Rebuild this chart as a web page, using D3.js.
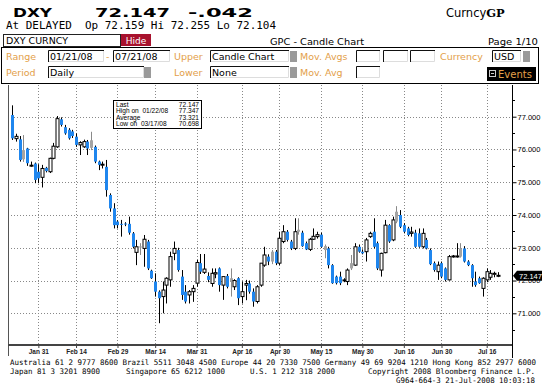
<!DOCTYPE html>
<html><head><meta charset="utf-8">
<script src="https://cdn.jsdelivr.net/npm/d3@7/dist/d3.min.js"></script>
<style>body{margin:0;background:#fff}svg{display:block}text{white-space:pre}</style>
</head><body><svg id="c" width="546" height="392"></svg>
<script>
// ---------- data ----------
const startDate = "2008-01-22";   // first session shown (range 01/21/08 - 07/21/08)
const sessionCount = 130;          // weekday sessions to 07/21/08
const openVals = [
77.05,76.33,76.31,75.70,76.03,75.50,75.57,75.32,75.15,75.44,
75.32,75.73,76.08,76.92,76.68,76.60,76.55,76.39,76.14,76.08,
76.24,76.05,76.08,75.63,75.52,75.47,74.61,74.20,73.80,73.73,
73.74,73.73,73.44,72.86,73.02,72.98,73.19,72.30,71.97,71.66,
71.51,71.86,72.02,72.83,72.93,72.12,71.66,71.56,71.66,71.92,
72.53,72.25,72.14,71.91,72.20,72.37,71.86,72.14,71.97,71.81,
72.07,71.51,71.86,71.91,71.66,71.36,71.86,72.47,72.73,72.58,
72.88,72.53,73.19,73.49,73.19,72.98,73.49,73.46,73.14,72.95,
73.26,73.34,73.40,72.93,72.98,72.47,72.12,72.12,71.99,71.97,
72.37,72.47,73.03,72.88,72.88,73.34,73.49,73.14,72.32,72.85,
73.69,73.24,73.80,74.00,73.69,73.59,73.44,73.46,73.44,73.03,
73.24,72.93,72.53,72.27,72.53,72.37,72.02,72.73,72.75,72.73,
72.98,72.58,72.47,71.97,72.07,71.76,72.02,72.10,72.20,72.159];
const highVals = [
77.347,76.48,76.41,76.44,76.05,75.63,75.60,75.55,75.53,75.47,
75.75,76.20,77.02,76.98,76.75,76.65,76.60,76.49,76.25,76.30,
76.29,76.54,76.12,75.66,75.63,75.68,74.66,74.36,73.84,73.85,
73.78,73.95,73.48,73.24,73.14,73.39,73.24,72.33,72.22,71.70,
71.97,72.10,72.88,73.19,73.00,72.32,71.86,71.71,71.86,72.63,
72.81,72.81,72.25,72.37,72.37,72.40,72.12,72.20,72.37,72.04,
72.10,71.97,72.02,72.00,71.76,71.86,72.53,73.03,72.80,72.93,
72.93,73.49,73.69,73.54,73.24,73.90,73.90,73.52,73.19,73.30,
73.59,73.49,73.46,73.10,73.03,72.50,72.15,72.27,72.07,72.37,
72.78,73.14,73.10,72.95,73.30,73.49,73.90,73.19,72.85,73.85,
73.72,73.95,74.27,74.15,73.75,73.64,73.64,73.55,73.59,73.59,
73.30,72.98,72.58,72.58,72.58,72.40,72.78,72.78,73.14,73.14,
73.05,72.62,72.50,72.27,72.12,72.10,72.37,72.32,72.27,72.255];
const lowVals = [
76.29,76.24,75.63,75.62,75.50,75.47,74.97,74.97,74.84,75.30,
75.28,75.70,76.05,76.70,76.45,76.30,76.35,76.08,75.83,76.05,
75.83,75.98,75.58,75.37,75.42,74.56,74.10,73.59,73.59,73.34,
73.66,73.40,72.98,72.47,72.78,72.42,72.32,72.05,71.51,70.698,
71.00,71.30,71.81,72.62,72.27,71.41,71.30,71.30,71.35,71.81,
72.20,72.20,71.95,71.81,72.07,71.66,71.41,71.76,71.51,71.71,
71.25,71.30,71.40,71.60,71.20,71.30,71.81,72.42,72.47,72.50,
72.47,72.47,73.14,73.19,72.93,72.93,73.40,73.03,72.93,72.90,
73.24,73.28,73.00,72.68,72.37,71.90,71.88,71.86,71.95,71.86,
72.32,72.45,72.85,72.80,72.58,73.30,72.98,72.32,72.12,72.83,
73.15,73.20,73.75,73.60,73.44,73.35,73.34,73.00,73.00,72.98,
72.95,72.47,72.27,72.02,72.07,71.97,72.00,72.70,72.70,72.70,
72.55,72.44,71.81,71.81,71.90,71.51,71.95,72.02,72.10,72.104];
const closeVals = [
76.34,76.40,75.68,75.98,75.58,75.52,75.07,75.12,75.42,75.34,
75.73,76.10,76.94,76.75,76.49,76.34,76.41,76.14,76.21,76.24,
76.03,76.28,75.63,75.53,75.55,74.76,74.20,73.69,73.69,73.71,
73.72,73.46,73.03,73.03,73.04,73.26,72.37,72.07,71.66,71.46,
71.71,72.07,72.73,72.98,72.32,71.56,71.36,71.66,71.76,72.55,
72.27,72.35,72.02,72.22,72.24,71.86,72.12,71.81,72.07,72.00,
71.46,71.66,71.91,71.66,71.36,71.81,72.53,72.78,72.58,72.88,
72.53,73.29,73.49,73.24,72.98,73.49,73.55,73.05,72.95,73.26,
73.35,73.40,73.03,73.05,72.47,71.92,71.92,71.92,72.02,72.32,
72.53,73.03,72.88,72.83,73.24,73.44,73.03,72.37,72.83,73.69,
73.19,73.85,74.10,73.64,73.49,73.39,73.48,73.03,73.03,73.44,
72.98,72.50,72.32,72.47,72.12,72.02,72.73,72.75,72.73,72.98,
72.58,72.47,72.07,71.86,71.92,72.07,72.27,72.22,72.22,72.147];
// candle style: b = blue filled, h = hollow, g = gray
const candleKinds = (
"bhbgbhbbhb"+"hhhbbbbbhh"+"bgbbhbbbbb"+"bbbhghbbbb"+"hhhhbbbhhh"+
"bhbhhbhbgh"+"bhhbbhhhbg"+"bhhbbhgbbh"+"hhbgbbbbhh"+"ghbbhhbbhh"+
"bhgbbbhbbh"+"bbbhbbhhhg"+"bbbbbhhhhh").split("");
const xTickDates = ["2008-01-31","2008-02-14","2008-02-29","2008-03-14","2008-03-31","2008-04-16",
                    "2008-04-30","2008-05-15","2008-05-30","2008-06-16","2008-06-30","2008-07-16"];
const xTickLabels = ["Jan 31","Feb 14","Feb 29","Mar 14","Mar 31","Apr 16","Apr 30","May 15","May 30","Jun 16","Jun 30","Jul 16"];
const yTicks = [71,72,73,74,75,76,77];
const yMinorTicks = [70.5,71.5,72.5,73.5,74.5,75.5,76.5,77.5];
const statLabels = ["Last","High on  01/22/08","Average","Low on  03/17/08"];
const statValues = ["72.147","77.347","73.321","70.698"];
const lastPrice = 72.147;

// sessions (weekdays)
const fmt = d3.timeFormat("%Y-%m-%d");
const parse = d3.timeParse("%Y-%m-%d");
const dates = [];
{ let d = parse(startDate); while (dates.length < sessionCount) { const w = d.getDay(); if (w>0 && w<6) dates.push(fmt(d)); d = d3.timeDay.offset(d,1);} }
const data = dates.map((d,i)=>({d, o:openVals[i], h:highVals[i], l:lowVals[i], c:closeVals[i], k:candleKinds[i]}));

// ---------- drawing ----------
const svg = d3.select("#c");
svg.append("rect").attr("width",546).attr("height",392).attr("fill","#fff");
const SANS = "'Liberation Sans', Arial, sans-serif";
const DV = "'DejaVu Sans', sans-serif";
const MONO = "'DejaVu Sans Mono', monospace";
const ORANGE = "#e3a04a";

function t(x,y,str,opt={}){
  const e = svg.append("text").attr("x",x).attr("y",y).text(str)
    .attr("font-family",opt.f||SANS).attr("font-size",opt.s||10).attr("fill",opt.c||"#000");
  if(opt.w) e.attr("font-weight",opt.w);
  if(opt.a) e.attr("text-anchor",opt.a);
  if(opt.len) e.attr("textLength",opt.len).attr("lengthAdjust","spacingAndGlyphs");
  return e;
}
// header
t(13,17,"DXY",{f:DV,s:13,w:"bold",len:39});
t(95,17,"72.147",{f:DV,s:13,w:"bold",len:75});
t(188,17,"-.042",{f:DV,s:13,w:"bold",len:65});
const cg = t(446,17,"Curncy",{f:DV,s:11.5});
cg.append("tspan").attr("font-weight","bold").attr("font-family","'DejaVu Serif', serif").text("GP");
t(6,29,"At DELAYED  Op 72.159 Hi 72.255 Lo 72.104",{f:MONO,s:11,len:270});

// row 3
svg.append("rect").attr("x",3.5).attr("y",34.5).attr("width",117).attr("height",12).attr("fill","#fff").attr("stroke","#222");
t(6,44,"DXY CURNCY",{f:DV,s:9,len:62});
svg.append("rect").attr("x",121).attr("y",34).attr("width",30).attr("height",12).attr("fill","#a8122e");
t(136,43.5,"Hide",{f:DV,s:9,c:"#fff",a:"middle"});
t(270,45,"GPC - Candle Chart",{f:DV,s:9.5,len:94});
t(538,45,"Page 1/10",{f:DV,s:9.5,a:"end",len:50});

// panel
svg.append("rect").attr("x",1.5).attr("y",47.5).attr("width",537).attr("height",36).attr("fill","#fff").attr("stroke","#000");
function box(x,y,w,str){
  svg.append("rect").attr("x",x).attr("y",y).attr("width",w).attr("height",12).attr("fill","#fff");
  svg.append("path").attr("d",`M${x+0.5},${y+12}V${y+0.5}H${x+w}`).attr("fill","none").attr("stroke","#111");
  svg.append("path").attr("d",`M${x+w-0.5},${y+1}V${y+11.5}H${x+1}`).attr("fill","none").attr("stroke","#ddd");
  if(str) t(x+2,y+10,str,{f:DV,s:9.5});
}
function sq(x,y){ svg.append("rect").attr("x",x).attr("y",y).attr("width",7).attr("height",11).attr("fill","#9a9a9a"); }
t(6,60,"Range",{f:DV,s:9.5,c:ORANGE});
box(48,50,56,"01/21/08"); t(106,60,"-",{f:DV,s:9.5,c:ORANGE});
box(113,50,57,"07/21/08");
t(174,60,"Upper",{f:DV,s:9.5,c:ORANGE});
box(210,50,79,"Candle Chart"); sq(290,51);
t(300,60,"Mov. Avgs",{f:DV,s:9.5,c:ORANGE});
box(356,50,24); box(383,50,25); box(410,50,25);
t(440,60,"Currency",{f:DV,s:9.5,c:ORANGE});
box(492,50,29,"USD"); sq(523,51);
t(6,76,"Period",{f:DV,s:9.5,c:ORANGE});
box(48,66,96,"Daily"); sq(144,67);
t(174,76,"Lower",{f:DV,s:9.5,c:ORANGE});
box(210,66,79,"None"); sq(290,67);
t(300,76,"Mov. Avg",{f:DV,s:9.5,c:ORANGE});
box(356,66,24);
svg.append("rect").attr("x",487).attr("y",67).attr("width",49).attr("height",14).attr("fill","#000");
svg.append("rect").attr("x",489.5).attr("y",70.5).attr("width",6).attr("height",6).attr("fill","#000").attr("stroke","#ccc");
svg.append("line").attr("x1",491).attr("x2",494).attr("y1",73.5).attr("y2",73.5).attr("stroke","#ccc");
t(498,78,"Events",{f:DV,s:10,c:ORANGE});

// ---------- chart ----------
const L=8, R=512, T=85, B=344;
const x = d3.scalePoint().domain(dates).range([12,498]);
const y = d3.scaleLinear().domain([71,77]).range([313.3,116.7]);

const g = svg.append("g");
g.selectAll(".hg").data(yTicks).join("line")
  .attr("x1",L).attr("x2",R).attr("y1",d=>Math.round(y(d))+0.5).attr("y2",d=>Math.round(y(d))+0.5)
  .attr("stroke","#888").attr("stroke-dasharray","1,2");
g.selectAll(".vg").data(xTickDates).join("line")
  .attr("x1",d=>Math.round(x(d))+0.5).attr("x2",d=>Math.round(x(d))+0.5).attr("y1",T).attr("y2",B)
  .attr("stroke","#888").attr("stroke-dasharray","1,2");

g.append("line").attr("x1",L+0.5).attr("x2",L+0.5).attr("y1",T).attr("y2",356).attr("stroke","#555");
g.append("line").attr("x1",R+0.5).attr("x2",R+0.5).attr("y1",T).attr("y2",358).attr("stroke","#000");
g.append("line").attr("x1",L).attr("x2",R).attr("y1",B+1).attr("y2",B+1).attr("stroke","#444").attr("stroke-width",2);

// candles
const COL = {b:"#1f86ee", h:"#fff", g:"#a4a4a4"};
const candles = g.append("g").selectAll("g").data(data).join("g");
candles.append("line")
  .attr("x1",d=>Math.round(x(d.d))+0.5).attr("x2",d=>Math.round(x(d.d))+0.5)
  .attr("y1",d=>y(d.h)).attr("y2",d=>y(d.l))
  .attr("stroke",d=>d.k==="g"?"#8a8a8a":"#000");
candles.append("rect")
  .attr("x",d=>Math.round(x(d.d))-1)
  .attr("y",d=>y(Math.max(d.o,d.c)))
  .attr("width",3)
  .attr("height",d=>Math.max(1,y(Math.min(d.o,d.c))-y(Math.max(d.o,d.c))))
  .attr("fill",d=>COL[d.k])
  .attr("stroke",d=>d.k==="h"?"#000":"none")
  .attr("stroke-width",1);

// right axis
const ay = g.append("g").attr("transform",`translate(${R+0.5},0)`)
  .call(d3.axisRight(y).tickValues(yTicks).tickFormat(d3.format(".3f")).tickSize(4).tickPadding(1));
ay.select(".domain").remove();
ay.selectAll("text").attr("font-family",SANS).attr("font-size",7.5).attr("fill","#000");
ay.selectAll("line").attr("stroke","#000");
g.selectAll(".my").data(yMinorTicks).join("line")
  .attr("x1",R).attr("x2",R+3).attr("y1",d=>Math.round(y(d))+0.5).attr("y2",d=>Math.round(y(d))+0.5).attr("stroke","#000");

// bottom axis
const ax = g.append("g").attr("transform",`translate(0,${B+2})`)
  .call(d3.axisBottom(x).tickValues(xTickDates).tickFormat((d,i)=>xTickLabels[i]).tickSize(2).tickPadding(1));
ax.select(".domain").remove();
ax.selectAll("text").attr("font-family",SANS).attr("font-size",6.5).attr("fill","#222").attr("font-weight","bold");
ax.selectAll("line").attr("stroke","#444");

// last price tag
const ly = y(lastPrice);
g.append("path").attr("d",`M${R+1},${ly} L${R+5},${ly-5} H${R+30} V${ly+5} H${R+5} Z`).attr("fill","#000");
t(R+7,ly+3,statValues[0],{f:SANS,s:7.5,c:"#fff"});

// stats box
g.append("rect").attr("x",113.5).attr("y",100.5).attr("width",88).attr("height",28).attr("fill","#fff").attr("stroke","#000");
statLabels.forEach((s,i)=>{
  t(116,106.5+i*6.6,s,{f:SANS,s:6.6});
  t(199,106.5+i*6.6,statValues[i],{f:SANS,s:6.6,a:"end"});
});

// footer
t(10,365,"Australia 61 2 9777 8600 Brazil 5511 3048 4500 Europe 44 20 7330 7500 Germany 49 69 9204 1210 Hong Kong 852 2977 6000",{f:MONO,s:7.6,len:526});
t(10,374,"Japan 81 3 3201 8900",{f:MONO,s:7.6,len:90});
t(126,374,"Singapore 65 6212 1000",{f:MONO,s:7.6,len:99});
t(250,374,"U.S. 1 212 318 2000",{f:MONO,s:7.6,len:85});
t(368,374,"Copyright 2008 Bloomberg Finance L.P.",{f:MONO,s:7.6,len:167});
t(535,383,"G964-664-3 21-Jul-2008 10:03:18",{f:MONO,s:7.6,a:"end",len:139});
</script></body></html>
